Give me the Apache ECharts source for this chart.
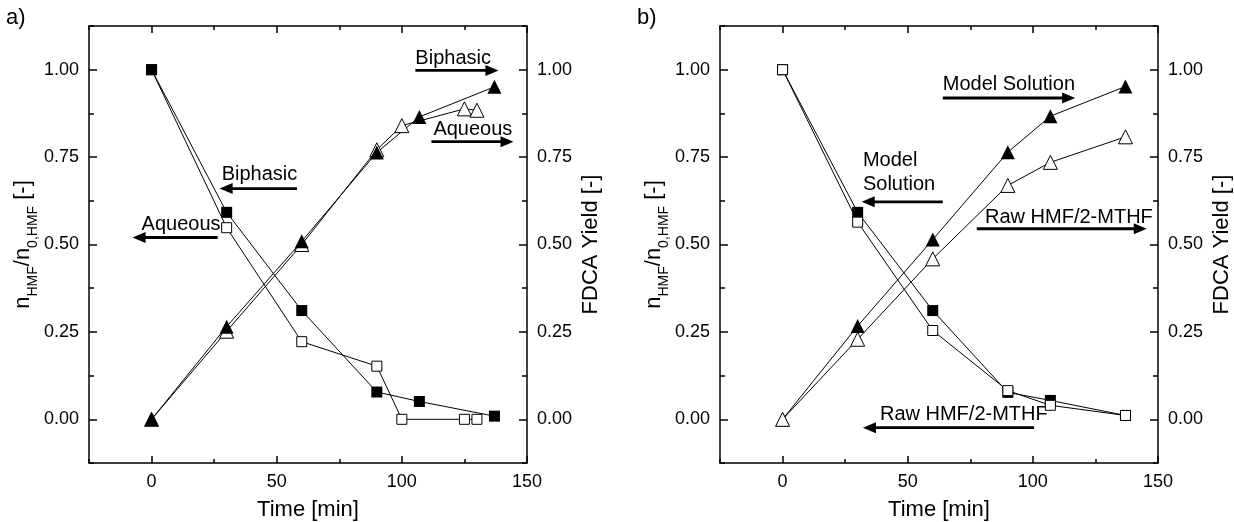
<!DOCTYPE html>
<html><head><meta charset="utf-8">
<script src="https://cdn.jsdelivr.net/npm/echarts@6/dist/echarts.min.js"></script>
<style>html,body{margin:0;padding:0;background:#fff}#c{width:1234px;height:522px}</style>
</head><body><div id="c"></div>
<script>
// ---------- DATA ----------
// Panel a)
const aTimeHMFBiphasic = [0, 30, 60, 90, 107, 137];
const aHMFBiphasic     = [1.00, 0.592, 0.311, 0.078, 0.051, 0.009];
const aTimeHMFAqueous  = [0, 30, 60, 90, 100, 125, 130];
const aHMFAqueous      = [1.00, 0.548, 0.222, 0.152, 0.0, 0.0, 0.0];
const aTimeFDCABiphasic = [0, 30, 60, 90, 107, 137];
const aFDCABiphasic     = [0.0, 0.265, 0.509, 0.763, 0.865, 0.951];
const aTimeFDCAAqueous  = [0, 30, 60, 90, 100, 125, 130];
const aFDCAAqueous      = [0.0, 0.252, 0.500, 0.771, 0.840, 0.888, 0.884];
// Panel b)
const bTime        = [0, 30, 60, 90, 107, 137];
const bHMFModel    = [1.00, 0.592, 0.311, 0.077, 0.054, 0.011];
const bHMFRaw      = [1.00, 0.564, 0.254, 0.082, 0.040, 0.011];
const bFDCAModel   = [0.0, 0.267, 0.514, 0.764, 0.867, 0.952];
const bFDCARaw     = [0.0, 0.229, 0.459, 0.669, 0.735, 0.808];
// Tick labels
const xTickLabels = [0, 50, 100, 150];
const yTickLabels = [0, 0.25, 0.5, 0.75, 1.0];
const panelLabels = ['a)', 'b)'];
const xTitle = 'Time [min]';
const yLeftTitle = '{m|n}{s|HMF}{m|/n}{s|0,HMF}{m| [-]}';
const yRightTitle = 'FDCA Yield [-]';

// Annotations (data coordinates of each panel)
const annotations = [
  {panel: 0, text: 'Biphasic', tx: 105.4, ty: 1.033, from: [105.4, 0.998], to: [138.6, 0.998]},
  {panel: 0, text: 'Aqueous',  tx: 112.6, ty: 0.829, from: [111.8, 0.794], to: [144.6, 0.794]},
  {panel: 0, text: 'Biphasic', tx: 28.0,  ty: 0.699, from: [58.1, 0.660],  to: [27.2, 0.660]},
  {panel: 0, text: 'Aqueous',  tx: -4.0,  ty: 0.557, from: [26.4, 0.520],  to: [-7.6, 0.520]},
  {panel: 1, text: 'Model Solution', tx: 64.0, ty: 0.957, from: [64.0, 0.919], to: [116.9, 0.919]},
  {panel: 1, text: 'Model\nSolution', tx: 32.1, ty: 0.707, from: [64.0, 0.622], to: [31.6, 0.622]},
  {panel: 1, text: 'Raw HMF/2-MTHF', tx: 80.9, ty: 0.576, from: [77.6, 0.545], to: [145.5, 0.545]},
  {panel: 1, text: 'Raw HMF/2-MTHF', tx: 38.9, ty: 0.013, from: [100.5, -0.024], to: [32.1, -0.024]}
];

// ---------- CHART ----------
const FONT = '"Liberation Sans", Arial, sans-serif';
const BLK = '#000';
const chart = echarts.init(document.getElementById('c'), null, {renderer: 'canvas'});

const grids = [
  {left: 89, top: 26, width: 438, height: 437, containLabel: false, outerBoundsMode: 'none'},
  {left: 720, top: 26, width: 438, height: 437, containLabel: false, outerBoundsMode: 'none'}
];

function makeXAxes(g) {
  const base = {gridIndex: g, type: 'value', min: -25, max: 150, interval: 25,
    splitLine: {show: false}, silent: true};
  const ls = {color: BLK, width: 1.5};
  return [
    Object.assign({}, base, {position: 'bottom',
      axisLine: {onZero: false, lineStyle: ls},
      axisTick: {inside: true, length: 7, customValues: xTickLabels, lineStyle: ls},
      axisLabel: {customValues: xTickLabels, color: BLK, fontSize: 18, fontFamily: FONT, margin: 10},
      name: xTitle, nameLocation: 'middle', nameGap: 34,
      nameTextStyle: {color: BLK, fontSize: 22, fontFamily: FONT, lineHeight: 26}}),
    Object.assign({}, base, {position: 'bottom',
      axisLine: {show: false, onZero: false},
      axisTick: {inside: true, length: 4, lineStyle: ls}, axisLabel: {show: false}}),
    Object.assign({}, base, {position: 'top',
      axisLine: {onZero: false, lineStyle: ls},
      axisTick: {inside: true, length: 7, customValues: xTickLabels, lineStyle: ls},
      axisLabel: {show: false}}),
    Object.assign({}, base, {position: 'top',
      axisLine: {show: false, onZero: false},
      axisTick: {inside: true, length: 4, lineStyle: ls}, axisLabel: {show: false}})
  ];
}
function makeYAxes(g) {
  const base = {gridIndex: g, type: 'value', min: -0.125, max: 1.125, interval: 0.125,
    splitLine: {show: false}, silent: true};
  const ls = {color: BLK, width: 1.5};
  const lab = {customValues: yTickLabels, color: BLK, fontSize: 18, fontFamily: FONT, margin: 10,
    formatter: v => Number(v).toFixed(2)};
  return [
    Object.assign({}, base, {position: 'left',
      axisLine: {onZero: false, lineStyle: ls},
      axisTick: {inside: true, length: 8, customValues: yTickLabels, lineStyle: ls},
      axisLabel: lab,
      name: yLeftTitle, nameLocation: 'middle', nameRotate: 90, nameGap: 48,
      nameTextStyle: {color: BLK, fontFamily: FONT, rich: {
        m: {fontSize: 22, lineHeight: 34, fontFamily: FONT, color: BLK},
        s: {fontSize: 14, lineHeight: 14, verticalAlign: 'bottom', fontFamily: FONT, color: BLK}
      }}}),
    Object.assign({}, base, {position: 'left',
      axisLine: {show: false, onZero: false},
      axisTick: {inside: true, length: 5, lineStyle: ls}, axisLabel: {show: false}}),
    Object.assign({}, base, {position: 'right',
      axisLine: {onZero: false, lineStyle: ls},
      axisTick: {inside: true, length: 8, customValues: yTickLabels, lineStyle: ls},
      axisLabel: lab,
      name: yRightTitle, nameLocation: 'middle', nameRotate: 90, nameGap: 51,
      nameTextStyle: {color: BLK, fontSize: 22, fontFamily: FONT, lineHeight: 26}}),
    Object.assign({}, base, {position: 'right',
      axisLine: {show: false, onZero: false},
      axisTick: {inside: true, length: 5, lineStyle: ls}, axisLabel: {show: false}})
  ];
}

function zip(xs, ys) { return xs.map((x, i) => [x, ys[i]]); }
function ser(panel, xs, ys, shape, filled, yRight) {
  return {
    type: 'line', xAxisIndex: panel * 4, yAxisIndex: panel * 4 + (yRight ? 2 : 0),
    data: zip(xs, ys), symbol: shape === 'sq' ? 'rect' : 'triangle',
    symbolSize: shape === 'sq' ? (filled ? 11 : 10) : 14,
    showAllSymbol: true, silent: true, animation: false,
    lineStyle: {color: BLK, width: 1},
    itemStyle: {color: filled ? BLK : '#fff', borderColor: BLK, borderWidth: filled ? 0 : 1},
    emphasis: {disabled: true}
  };
}

const series = [
  // panel a
  ser(0, aTimeHMFAqueous, aHMFAqueous, 'sq', false, false),
  ser(0, aTimeHMFBiphasic, aHMFBiphasic, 'sq', true, false),
  ser(0, aTimeFDCAAqueous, aFDCAAqueous, 'tri', false, true),
  ser(0, aTimeFDCABiphasic, aFDCABiphasic, 'tri', true, true),
  // panel b
  ser(1, bTime, bHMFModel, 'sq', true, false),
  ser(1, bTime, bHMFRaw, 'sq', false, false),
  ser(1, bTime, bFDCAModel, 'tri', true, true),
  ser(1, bTime, bFDCARaw, 'tri', false, true)
];

chart.setOption({
  animation: false,
  backgroundColor: '#fff',
  grid: grids,
  xAxis: makeXAxes(0).concat(makeXAxes(1)),
  yAxis: makeYAxes(0).concat(makeYAxes(1)),
  series: series
});

// Annotations and panel labels
const gfx = [];
panelLabels.forEach((t, i) => {
  gfx.push({type: 'text', x: i === 0 ? 6 : 637, y: 7, silent: true,
    style: {text: t, fill: BLK, font: '22px ' + FONT, textAlign: 'left', textVerticalAlign: 'top',
      align: 'left', verticalAlign: 'top'}});
});
annotations.forEach(a => {
  const finder = {xAxisIndex: a.panel * 4, yAxisIndex: a.panel * 4};
  const tp = chart.convertToPixel(finder, [a.tx, a.ty]);
  const p0 = chart.convertToPixel(finder, a.from);
  const p1 = chart.convertToPixel(finder, a.to);
  gfx.push({type: 'text', x: tp[0], y: tp[1], silent: true,
    style: {text: a.text, fill: BLK, font: '20px ' + FONT, lineHeight: 24,
      textAlign: 'left', textVerticalAlign: 'middle', align: 'left', verticalAlign: 'middle'}});
  const dx = p1[0] - p0[0], dy = p1[1] - p0[1];
  const len = Math.sqrt(dx * dx + dy * dy);
  const ux = dx / len, uy = dy / len;
  const headL = 13, headW = 5.5;
  const bx = p1[0] - ux * headL, by = p1[1] - uy * headL;
  gfx.push({type: 'line', silent: true, shape: {x1: p0[0], y1: p0[1], x2: bx + ux, y2: by + uy},
    style: {stroke: BLK, lineWidth: 2.8}});
  gfx.push({type: 'polygon', silent: true, shape: {points: [
      [p1[0], p1[1]], [bx - uy * headW, by + ux * headW], [bx + uy * headW, by - ux * headW]]},
    style: {fill: BLK}});
});
chart.setOption({graphic: gfx});
</script>
</body></html>
